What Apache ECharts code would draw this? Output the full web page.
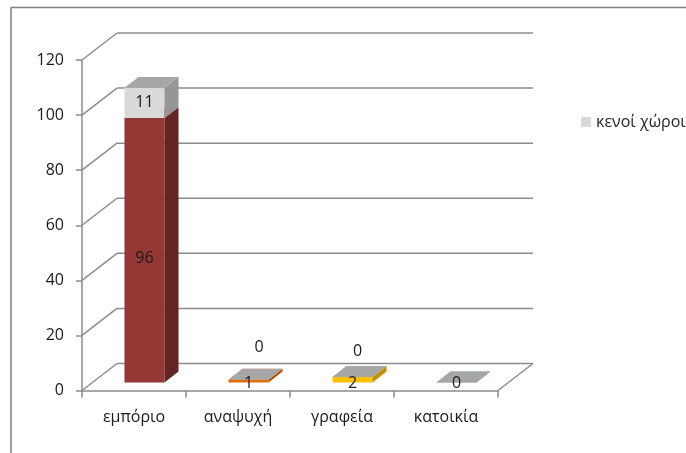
<!DOCTYPE html>
<html>
<head>
<meta charset="utf-8">
<script src="https://cdn.jsdelivr.net/npm/echarts@6/dist/echarts.min.js"></script>
<style>
  html, body { margin: 0; padding: 0; background: #ffffff; }
  #chart { width: 686px; height: 453px; }
</style>
</head>
<body>
<div id="chart"></div>
<script>
// ---- data ----
const categories = ['εμπόριο', 'αναψυχή', 'γραφεία', 'κατοικία'];
const usedValues = [96, 1, 2, 0];
const vacantValues = [11, 0, 0, 0];
const vacantName = 'κενοί χώροι';
const yTicks = [0, 20, 40, 60, 80, 100, 120];

// ---- style ----
const FONT = 'Open Sans';
const LINE = '#8c8c8c';
const TEXT = '#1a1a1a';
const DEPTH = { dx: 35, dy: 27 };      // oblique depth of the floor / side wall
const BAR_FRONT = 0.3;                 // bar front plane, fraction of depth
const BAR_DEPTH = 0.4;                 // bar thickness, fraction of depth
const BAR_WIDTH = 0.385;               // bar width, fraction of band
const usedFront = ['#953735', '#e46c0a', '#ffc000', '#4bacc6'];
const usedSide  = ['#632523', '#a84f07', '#bf9000', '#31859c'];
const usedTop   = ['#b04542', '#f08a3a', '#ffd24d', '#78c0d4'];
const vacantFront = '#d9d9d9', vacantSide = '#969696', vacantTop = '#a6a6a6';
// where a zero-height vacant label sits, relative to the bar's top front centre
const vacantZeroLabelShift = [null, [10.5, -32.5], [5, -25], null];

function geom(api, idx, base, value) {
  const p0 = api.coord([idx, base]);
  const p1 = api.coord([idx, base + value]);
  const band = api.size([1, 0])[0];
  const w = band * BAR_WIDTH;
  const fx = DEPTH.dx * BAR_FRONT, fy = DEPTH.dy * BAR_FRONT;
  const xl = p0[0] + fx - w / 2;
  return { xl, xr: xl + w, yb: p0[1] - fy, yt: p1[1] - fy };
}

function box(api, idx, base, value, cFront, cSide, cTop) {
  const g = geom(api, idx, base, value);
  const bx = DEPTH.dx * BAR_DEPTH, by = DEPTH.dy * BAR_DEPTH;
  const { xl, xr, yb, yt } = g;
  return [
    { type: 'rect', shape: { x: xl, y: yt, width: xr - xl, height: yb - yt }, style: { fill: cFront } },
    { type: 'polygon', shape: { points: [[xr, yb], [xr, yt], [xr + bx, yt - by], [xr + bx, yb - by]] }, style: { fill: cSide } },
    { type: 'polygon', shape: { points: [[xl, yt], [xr, yt], [xr + bx, yt - by], [xl + bx, yt - by]] }, style: { fill: cTop } }
  ];
}

function label(text, x, y) {
  return {
    type: 'text',
    style: { text: String(text), x, y, align: 'center', verticalAlign: 'middle',
             fill: TEXT, font: '16px "' + FONT + '"' }
  };
}

const chart = echarts.init(document.getElementById('chart'), null, { renderer: 'canvas' });

chart.setOption({
  backgroundColor: '#ffffff',
  animation: false,
  textStyle: { fontFamily: FONT },
  graphic: [{
    type: 'rect', silent: true,
    shape: { x: 11, y: 7.5, width: 720, height: 480 },
    style: { fill: null, stroke: '#808080', lineWidth: 1.5 }
  }],
  legend: {
    data: [vacantName],
    left: 576, top: 109,
    icon: 'rect', itemWidth: 10, itemHeight: 10,
    textStyle: { fontFamily: FONT, fontSize: 16, color: '#262626' }
  },
  grid: { left: 82, top: 60, width: 416, height: 330.5 },
  xAxis: {
    type: 'category',
    data: categories,
    boundaryGap: true,
    axisLine: { lineStyle: { color: LINE, width: 1.5 } },
    axisTick: { show: true, length: 7, interval: 0, lineStyle: { color: LINE, width: 1.5 } },
    axisLabel: { margin: 19, fontSize: 16, color: TEXT, fontFamily: FONT, interval: 0 },
    splitLine: { show: false }
  },
  yAxis: {
    type: 'value',
    min: 0, max: 120, interval: 20,
    axisLine: { show: true, lineStyle: { color: LINE, width: 1.5 } },
    axisTick: { show: true, length: 6, lineStyle: { color: LINE, width: 1.5 } },
    axisLabel: { margin: 18, fontSize: 16, color: TEXT, fontFamily: FONT },
    splitLine: { show: false }
  },
  series: [
    {
      // side wall diagonals, back wall gridlines and the floor edge
      type: 'custom',
      name: 'walls',
      silent: true,
      clip: false,
      z: 1,
      data: yTicks.map(v => [0, v]),
      encode: { x: 0, y: 1 },
      renderItem(params, api) {
        const cs = params.coordSys;
        const y = api.coord([0, api.value(1)])[1];
        const left = cs.x, right = cs.x + cs.width;
        const st = { stroke: LINE, lineWidth: 1.5, fill: null };
        const children = [
          { type: 'line', shape: { x1: left, y1: y, x2: left + DEPTH.dx, y2: y - DEPTH.dy }, style: st },
          { type: 'line', shape: { x1: left + DEPTH.dx, y1: y - DEPTH.dy, x2: right + DEPTH.dx, y2: y - DEPTH.dy }, style: st }
        ];
        if (api.value(1) === 0) {
          children.push({ type: 'line', shape: { x1: right, y1: y, x2: right + DEPTH.dx, y2: y - DEPTH.dy }, style: st });
        }
        return { type: 'group', children };
      }
    },
    {
      type: 'custom',
      name: 'χρήσεις',
      clip: false,
      z: 2,
      data: usedValues.map((v, i) => [i, v]),
      encode: { x: 0, y: 1 },
      renderItem(params, api) {
        const i = params.dataIndex;
        return { type: 'group', children: box(api, i, 0, api.value(1), usedFront[i], usedSide[i], usedTop[i]) };
      }
    },
    {
      type: 'custom',
      name: vacantName,
      clip: false,
      z: 3,
      itemStyle: { color: vacantFront },
      data: vacantValues.map((v, i) => [i, v, usedValues[i]]),
      encode: { x: 0, y: 1 },
      renderItem(params, api) {
        const i = params.dataIndex;
        const v = api.value(1);
        const base = api.value(2);
        const children = box(api, i, base, v, vacantFront, vacantSide, vacantTop);
        const g = geom(api, i, base, v);
        const cx = (g.xl + g.xr) / 2;
        if (v > 0) {
          children.push(label(v, cx, (g.yt + g.yb) / 2));
        } else if (vacantZeroLabelShift[i]) {
          const s = vacantZeroLabelShift[i];
          children.push(label(v, cx + s[0], g.yt + s[1]));
        }
        return { type: 'group', children };
      }
    },
    {
      // value labels of the used-space segments, kept above every face
      type: 'custom',
      name: 'χρήσεις-ετικέτες',
      silent: true,
      clip: false,
      z: 4,
      data: usedValues.map((v, i) => [i, v]),
      encode: { x: 0, y: 1 },
      renderItem(params, api) {
        const i = params.dataIndex;
        const v = api.value(1);
        const g = geom(api, i, 0, v);
        const h = g.yb - g.yt;
        const y = h > 20 ? (g.yt + g.yb) / 2 + 8 : g.yb + 1;
        return { type: 'group', children: [label(v, (g.xl + g.xr) / 2, y)] };
      }
    }
  ]
});
</script>
</body>
</html>
